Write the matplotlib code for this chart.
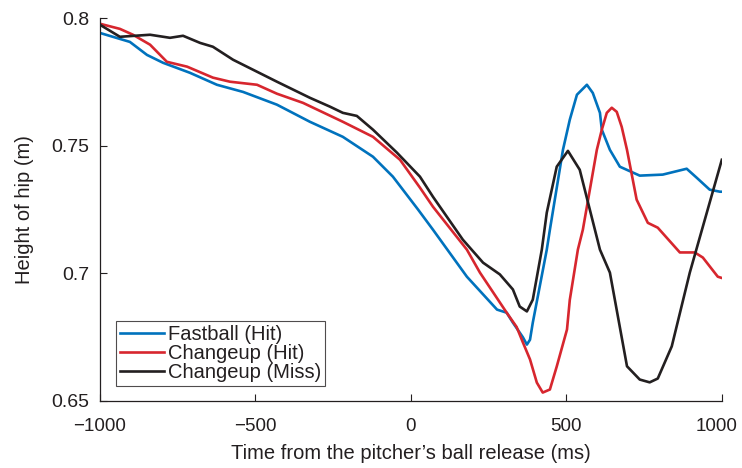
"""
Hip height vs. time from the pitcher's ball release, three pitch/outcome traces.
"""

import matplotlib
matplotlib.use("Agg")
import matplotlib.pyplot as plt
import matplotlib.transforms as mtransforms

OUT_PATH = "out.png"

# values (ms, m)
fastball_hit_t = [-1000, -904, -849, -797, -711, -624, -540, -431, -325, -219,
                  -122, -58, 23, 71, 180, 277, 308, 328, 360, 373, 383, 392,
                  437, 447, 489, 511, 534, 566, 585, 608, 614, 640, 672, 736,
                  810, 887, 919, 961, 994, 1000]
fastball_hit_y = [0.7942, 0.7907, 0.7856, 0.7825, 0.7786, 0.7739, 0.7711, 0.7661,
                  0.7594, 0.7535, 0.7457, 0.7379, 0.7250, 0.7171, 0.6987, 0.6858,
                  0.6846, 0.6807, 0.6750, 0.6721, 0.6740, 0.6807, 0.7093, 0.7171,
                  0.7484, 0.7602, 0.7700, 0.7739, 0.7707, 0.7629, 0.7563, 0.7484,
                  0.7418, 0.7383, 0.7387, 0.7410, 0.7375, 0.7328, 0.7320, 0.7320]

changeup_hit_t = [-1000, -936, -894, -839, -785, -720, -637, -582, -495, -431,
                  -347, -219, -122, -35, 29, 71, 180, 222, 308, 340, 360, 383,
                  405, 424, 447, 469, 502, 511, 537, 553, 598, 614, 630, 646,
                  662, 678, 695, 726, 762, 794, 865, 913, 939, 987, 1000]
changeup_hit_y = [0.7978, 0.7958, 0.7935, 0.7896, 0.7829, 0.7810, 0.7767, 0.7751,
                  0.7739, 0.7704, 0.7668, 0.7594, 0.7535, 0.7445, 0.7336, 0.7261,
                  0.7093, 0.7003, 0.6846, 0.6790, 0.6730, 0.6663, 0.6572, 0.6533,
                  0.6545, 0.6635, 0.6780, 0.6896, 0.7093, 0.7171, 0.7484, 0.7563,
                  0.7629, 0.7649, 0.7633, 0.7574, 0.7484, 0.7289, 0.7198, 0.7179,
                  0.7082, 0.7082, 0.7062, 0.6987, 0.6982]

changeup_miss_t = [-1000, -936, -839, -775, -733, -678, -637, -572, -431, -325,
                   -260, -219, -174, -122, -45, 29, 71, 167, 232, 286, 328, 350,
                   373, 392, 421, 437, 469, 505, 543, 608, 640, 695, 736, 768,
                   794, 839, 897, 1000]
changeup_miss_y = [0.7974, 0.7927, 0.7935, 0.7923, 0.7931, 0.7903, 0.7888, 0.7837,
                   0.7751, 0.7688, 0.7653, 0.7629, 0.7617, 0.7563, 0.7473, 0.7379,
                   0.7300, 0.7132, 0.7042, 0.6996, 0.6937, 0.6870, 0.6851, 0.6897,
                   0.7093, 0.7238, 0.7418, 0.7480, 0.7406, 0.7093, 0.7003, 0.6636,
                   0.6584, 0.6573, 0.6588, 0.6714, 0.7003, 0.7445]

series = [
    ("Fastball (Hit)", fastball_hit_t, fastball_hit_y, "#0072BD"),
    ("Changeup (Hit)", changeup_hit_t, changeup_hit_y, "#D7262E"),
    ("Changeup (Miss)", changeup_miss_t, changeup_miss_y, "#231F20"),
]

x_ticks = [-1000, -500, 0, 500, 1000]
y_ticks = [0.65, 0.7, 0.75, 0.8]
y_tick_labels = ["0.65", "0.7", "0.75", "0.8"]


def main():
    plt.rcParams["font.family"] = ["Liberation Sans", "DejaVu Sans"]
    fig = plt.figure(figsize=(7.42, 4.68), dpi=100)
    ax = fig.add_axes([0.1348, 0.1432, 0.838, 0.818])

    for label, t, y, color in series:
        ax.plot(t, y, color=color, lw=1.9, label=label, solid_joinstyle="round")

    ax.set_xlim(-1000, 1000)
    ax.set_ylim(0.65, 0.8)
    ax.set_xticks(x_ticks)
    ax.set_yticks(y_ticks)
    ax.set_yticklabels(y_tick_labels)
    ax.tick_params(direction="in", length=5, width=0.8, labelsize=14,
                   colors="#231F20")
    ax.tick_params(axis="x", pad=12, labelsize=13.5)
    ax.tick_params(axis="y", pad=8)
    for side in ("top", "right"):
        ax.spines[side].set_visible(False)
    for side in ("left", "bottom"):
        ax.spines[side].set_color("#231F20")
        ax.spines[side].set_linewidth(0.9)

    # keep the last x tick label inside the canvas
    last = ax.get_xticklabels()[-1]
    last.set_transform(last.get_transform() +
                       mtransforms.ScaledTranslation(-4 / 72, 0, fig.dpi_scale_trans))

    ax.set_xlabel("Time from the pitcher\u2019s ball release (ms)", fontsize=14.5,
                  color="#231F20", labelpad=7)
    ax.set_ylabel("Height of hip (m)", fontsize=14.5, color="#231F20", labelpad=12)

    leg = ax.legend(loc="lower left", bbox_to_anchor=(0.025, 0.04), fontsize=14.5,
                    frameon=True, fancybox=False, handlelength=2.2,
                    handletextpad=0.2, borderpad=0.2, labelspacing=0.0,
                    borderaxespad=0)
    leg.get_frame().set_edgecolor("#231F20")
    leg.get_frame().set_linewidth(0.8)
    for text in leg.get_texts():
        text.set_color("#231F20")

    fig.savefig(OUT_PATH, dpi=100)
    print(f"saved {OUT_PATH}")


if __name__ == "__main__":
    main()
